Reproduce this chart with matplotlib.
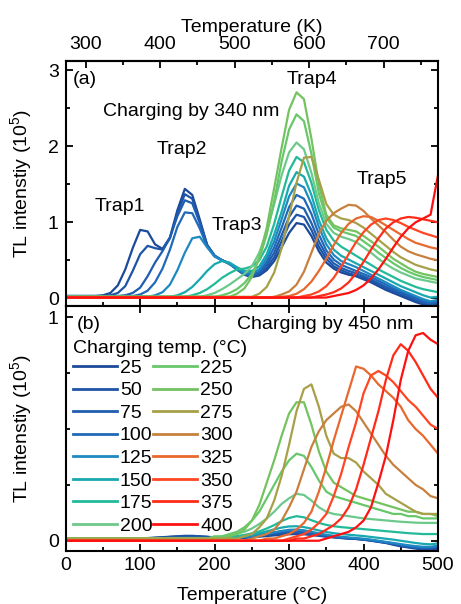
import matplotlib.pyplot as plt
from matplotlib.lines import Line2D
from matplotlib.ticker import MultipleLocator

plt.rcParams["font.family"] = ["Liberation Sans", "DejaVu Sans"]
plt.rcParams["mathtext.default"] = "regular"
plt.rcParams["font.size"] = 14

# heating temperature grid (deg C) shared by every curve
temps = list(range(0, 501, 10))

charge_temps = [25, 50, 75, 100, 125, 150, 175, 200,
                225, 250, 275, 300, 325, 350, 375, 400]
colors = ["#1c4a9a", "#1e54a6", "#1f5daf", "#2068b8", "#1e88c2", "#18a8b0",
          "#22ba98", "#6cc98a", "#66c86a", "#74c260", "#a8a048", "#c8803e",
          "#e8682e", "#ff4522", "#ff2a18", "#ff1010"]

# (a) charging by 340 nm, TL intensity in 1e5 counts
a25 = [0.03, 0.03, 0.03, 0.03, 0.03, 0.04, 0.07, 0.17, 0.38, 0.66,
       0.90, 0.88, 0.71, 0.65, 0.80, 1.16, 1.44, 1.36, 1.04, 0.70,
       0.56, 0.50, 0.46, 0.38, 0.31, 0.28, 0.30, 0.37, 0.49, 0.67,
       0.86, 0.99, 0.97, 0.82, 0.62, 0.47, 0.39, 0.34, 0.31, 0.29,
       0.25, 0.21, 0.16, 0.11, 0.07, 0.03, -0.01, -0.05, -0.08, -0.10,
       -0.07]
a50 = [0.03, 0.03, 0.03, 0.03, 0.03, 0.03, 0.04, 0.07, 0.16, 0.36,
       0.58, 0.69, 0.66, 0.64, 0.79, 1.12, 1.37, 1.31, 1.01, 0.70,
       0.56, 0.50, 0.46, 0.38, 0.31, 0.29, 0.31, 0.40, 0.54, 0.75,
       0.97, 1.10, 1.07, 0.90, 0.68, 0.52, 0.42, 0.37, 0.33, 0.30,
       0.27, 0.23, 0.18, 0.13, 0.09, 0.05, 0.01, -0.03, -0.06, -0.09,
       -0.06]
a75 = [0.03, 0.03, 0.03, 0.03, 0.03, 0.03, 0.03, 0.03, 0.04, 0.07,
       0.14, 0.29, 0.47, 0.62, 0.80, 1.08, 1.29, 1.25, 0.99, 0.70,
       0.56, 0.50, 0.46, 0.38, 0.32, 0.30, 0.33, 0.44, 0.60, 0.83,
       1.07, 1.22, 1.18, 0.99, 0.75, 0.57, 0.46, 0.40, 0.36, 0.33,
       0.29, 0.25, 0.20, 0.15, 0.11, 0.07, 0.03, -0.01, -0.05, -0.08,
       -0.05]
a100 = [0.03, 0.03, 0.03, 0.03, 0.03, 0.03, 0.03, 0.03, 0.03, 0.03,
        0.05, 0.10, 0.21, 0.39, 0.64, 0.94, 1.13, 1.12, 0.92, 0.68,
        0.55, 0.50, 0.45, 0.38, 0.32, 0.31, 0.35, 0.48, 0.67, 0.93,
        1.20, 1.36, 1.31, 1.11, 0.84, 0.63, 0.51, 0.44, 0.40, 0.36,
        0.32, 0.28, 0.23, 0.18, 0.13, 0.09, 0.05, 0.01, -0.03, -0.06,
        -0.03]
a125 = [0.02, 0.02, 0.02, 0.02, 0.02, 0.02, 0.02, 0.02, 0.02, 0.02,
        0.02, 0.02, 0.04, 0.08, 0.18, 0.37, 0.60, 0.79, 0.81, 0.67,
        0.55, 0.50, 0.45, 0.39, 0.33, 0.33, 0.38, 0.53, 0.75, 1.04,
        1.34, 1.51, 1.46, 1.24, 0.94, 0.71, 0.57, 0.49, 0.45, 0.41,
        0.36, 0.31, 0.26, 0.21, 0.16, 0.11, 0.07, 0.03, -0.01, -0.04,
        -0.02]
a150 = [0.02, 0.02, 0.02, 0.02, 0.02, 0.02, 0.02, 0.02, 0.02, 0.02,
        0.02, 0.02, 0.02, 0.02, 0.02, 0.04, 0.08, 0.15, 0.25, 0.36,
        0.45, 0.49, 0.47, 0.41, 0.36, 0.36, 0.42, 0.58, 0.84, 1.14,
        1.48, 1.66, 1.60, 1.36, 1.03, 0.79, 0.64, 0.56, 0.51, 0.46,
        0.41, 0.36, 0.31, 0.26, 0.21, 0.16, 0.12, 0.08, 0.04, 0.01,
        0.02]
a175 = [0.02, 0.02, 0.02, 0.02, 0.02, 0.02, 0.02, 0.02, 0.02, 0.02,
        0.02, 0.02, 0.02, 0.02, 0.02, 0.02, 0.02, 0.04, 0.07, 0.12,
        0.19, 0.27, 0.33, 0.38, 0.39, 0.42, 0.50, 0.68, 0.98, 1.34,
        1.68, 1.86, 1.79, 1.52, 1.16, 0.90, 0.76, 0.68, 0.62, 0.56,
        0.50, 0.44, 0.38, 0.33, 0.28, 0.23, 0.19, 0.15, 0.12, 0.10,
        0.08]
a200 = [0.02, 0.02, 0.02, 0.02, 0.02, 0.02, 0.02, 0.02, 0.02, 0.02,
        0.02, 0.02, 0.02, 0.02, 0.02, 0.02, 0.02, 0.02, 0.02, 0.04,
        0.07, 0.12, 0.18, 0.25, 0.32, 0.42, 0.60, 0.88, 1.24, 1.62,
        1.92, 2.05, 1.96, 1.65, 1.25, 0.98, 0.86, 0.81, 0.78, 0.74,
        0.67, 0.60, 0.52, 0.45, 0.39, 0.34, 0.30, 0.26, 0.24, 0.22,
        0.20]
a225 = [0.02, 0.02, 0.02, 0.02, 0.02, 0.02, 0.02, 0.02, 0.02, 0.02,
        0.02, 0.02, 0.02, 0.02, 0.02, 0.02, 0.02, 0.02, 0.02, 0.02,
        0.02, 0.04, 0.07, 0.12, 0.20, 0.32, 0.52, 0.84, 1.28, 1.80,
        2.22, 2.42, 2.33, 1.90, 1.38, 1.06, 0.93, 0.88, 0.85, 0.82,
        0.75, 0.68, 0.60, 0.53, 0.46, 0.40, 0.35, 0.31, 0.28, 0.26,
        0.24]
a250 = [0.02, 0.02, 0.02, 0.02, 0.02, 0.02, 0.02, 0.02, 0.02, 0.02,
        0.02, 0.02, 0.02, 0.02, 0.02, 0.02, 0.02, 0.02, 0.02, 0.02,
        0.02, 0.02, 0.02, 0.06, 0.13, 0.28, 0.54, 0.93, 1.45, 1.98,
        2.48, 2.71, 2.62, 2.10, 1.50, 1.10, 0.96, 0.92, 0.90, 0.88,
        0.82, 0.75, 0.68, 0.60, 0.52, 0.46, 0.40, 0.35, 0.32, 0.30,
        0.28]
a275 = [0.02, 0.02, 0.02, 0.02, 0.02, 0.02, 0.02, 0.02, 0.02, 0.02,
        0.02, 0.02, 0.02, 0.02, 0.02, 0.02, 0.02, 0.02, 0.02, 0.02,
        0.02, 0.02, 0.02, 0.02, 0.02, 0.02, 0.06, 0.15, 0.34, 0.66,
        1.08, 1.52, 1.85, 1.86, 1.56, 1.24, 1.10, 1.05, 1.03, 0.99,
        0.93, 0.85, 0.77, 0.69, 0.61, 0.54, 0.49, 0.44, 0.41, 0.38,
        0.36]
a300 = [0.01, 0.01, 0.01, 0.01, 0.01, 0.01, 0.01, 0.01, 0.01, 0.01,
        0.01, 0.01, 0.01, 0.01, 0.01, 0.01, 0.01, 0.01, 0.01, 0.01,
        0.01, 0.01, 0.01, 0.01, 0.01, 0.01, 0.01, 0.01, 0.02, 0.05,
        0.09, 0.18, 0.35, 0.60, 0.85, 1.02, 1.12, 1.18, 1.23, 1.22,
        1.15, 1.05, 0.96, 0.87, 0.77, 0.68, 0.62, 0.58, 0.55, 0.52,
        0.50]
a325 = [0.01, 0.01, 0.01, 0.01, 0.01, 0.01, 0.01, 0.01, 0.01, 0.01,
        0.01, 0.01, 0.01, 0.01, 0.01, 0.01, 0.01, 0.01, 0.01, 0.01,
        0.01, 0.01, 0.01, 0.01, 0.01, 0.01, 0.01, 0.01, 0.01, 0.02,
        0.03, 0.06, 0.12, 0.22, 0.36, 0.52, 0.70, 0.86, 0.98, 1.05,
        1.08, 1.07, 1.02, 0.96, 0.90, 0.84, 0.78, 0.73, 0.70, 0.67,
        0.65]
a350 = [0.01, 0.01, 0.01, 0.01, 0.01, 0.01, 0.01, 0.01, 0.01, 0.01,
        0.01, 0.01, 0.01, 0.01, 0.01, 0.01, 0.01, 0.01, 0.01, 0.01,
        0.01, 0.01, 0.01, 0.01, 0.01, 0.01, 0.01, 0.01, 0.01, 0.01,
        0.01, 0.01, 0.03, 0.05, 0.09, 0.16, 0.27, 0.42, 0.58, 0.74,
        0.87, 0.97, 1.03, 1.05, 1.03, 0.99, 0.94, 0.90, 0.86, 0.83,
        0.80]
a375 = [0.01, 0.01, 0.01, 0.01, 0.01, 0.01, 0.01, 0.01, 0.01, 0.01,
        0.01, 0.01, 0.01, 0.01, 0.01, 0.01, 0.01, 0.01, 0.01, 0.01,
        0.01, 0.01, 0.01, 0.01, 0.01, 0.01, 0.01, 0.01, 0.01, 0.01,
        0.01, 0.01, 0.01, 0.01, 0.03, 0.05, 0.08, 0.13, 0.21, 0.33,
        0.48, 0.64, 0.79, 0.92, 1.00, 1.05, 1.07, 1.06, 1.04, 1.02,
        1.00]
a400 = [0.01, 0.01, 0.01, 0.01, 0.01, 0.01, 0.01, 0.01, 0.01, 0.01,
        0.01, 0.01, 0.01, 0.01, 0.01, 0.01, 0.01, 0.01, 0.01, 0.01,
        0.01, 0.01, 0.01, 0.01, 0.01, 0.01, 0.01, 0.01, 0.01, 0.01,
        0.01, 0.01, 0.01, 0.01, 0.01, 0.01, 0.03, 0.05, 0.07, 0.11,
        0.17, 0.26, 0.38, 0.52, 0.67, 0.81, 0.92, 1.00, 1.05, 1.10,
        1.62]

# (b) charging by 450 nm
b25 = [0.01, 0.01, 0.01, 0.01, 0.01, 0.01, 0.01, 0.01, 0.01, 0.01,
       0.01, 0.012, 0.014, 0.016, 0.018, 0.02, 0.022, 0.022, 0.02, 0.018,
       0.015, 0.013, 0.012, 0.012, 0.013, 0.015, 0.018, 0.021, 0.024, 0.027,
       0.029, 0.03, 0.029, 0.026, 0.022, 0.018, 0.015, 0.012, 0.01, 0.008,
       0.005, 0.0, -0.005, -0.01, -0.018, -0.025, -0.03, -0.035, -0.04, -0.04,
       -0.035]
b50 = [0.01, 0.01, 0.01, 0.01, 0.01, 0.01, 0.01, 0.01, 0.01, 0.01,
       0.01, 0.011, 0.013, 0.015, 0.017, 0.019, 0.02, 0.02, 0.019, 0.017,
       0.015, 0.013, 0.012, 0.013, 0.015, 0.018, 0.021, 0.025, 0.029, 0.032,
       0.034, 0.034, 0.032, 0.028, 0.024, 0.02, 0.016, 0.013, 0.01, 0.008,
       0.005, 0.001, -0.004, -0.009, -0.015, -0.022, -0.028, -0.032, -0.036, -0.036,
       -0.03]
b75 = [0.01, 0.01, 0.01, 0.01, 0.01, 0.01, 0.01, 0.01, 0.01, 0.01,
       0.01, 0.01, 0.011, 0.012, 0.014, 0.015, 0.016, 0.016, 0.015, 0.014,
       0.013, 0.013, 0.013, 0.014, 0.017, 0.021, 0.025, 0.029, 0.033, 0.037,
       0.039, 0.039, 0.036, 0.031, 0.026, 0.021, 0.017, 0.014, 0.011, 0.009,
       0.006, 0.002, -0.003, -0.008, -0.013, -0.02, -0.025, -0.03, -0.033, -0.033,
       -0.028]
b100 = [0.01, 0.01, 0.01, 0.01, 0.01, 0.01, 0.01, 0.01, 0.01, 0.01,
        0.01, 0.01, 0.01, 0.01, 0.011, 0.012, 0.012, 0.012, 0.012, 0.012,
        0.012, 0.012, 0.013, 0.015, 0.018, 0.022, 0.027, 0.032, 0.037, 0.041,
        0.044, 0.044, 0.041, 0.035, 0.029, 0.024, 0.019, 0.015, 0.012, 0.01,
        0.007, 0.003, -0.002, -0.007, -0.012, -0.018, -0.023, -0.027, -0.03, -0.03,
        -0.025]
b125 = [0.01, 0.01, 0.01, 0.01, 0.01, 0.01, 0.01, 0.01, 0.01, 0.01,
        0.01, 0.01, 0.01, 0.01, 0.01, 0.01, 0.01, 0.01, 0.01, 0.01,
        0.01, 0.011, 0.012, 0.014, 0.017, 0.021, 0.026, 0.032, 0.038, 0.044,
        0.049, 0.05, 0.047, 0.04, 0.033, 0.027, 0.022, 0.018, 0.015, 0.012,
        0.009, 0.005, 0.0, -0.005, -0.01, -0.015, -0.02, -0.024, -0.027, -0.027,
        -0.022]
b150 = [0.01, 0.01, 0.01, 0.01, 0.01, 0.01, 0.01, 0.01, 0.01, 0.01,
        0.01, 0.01, 0.01, 0.01, 0.01, 0.01, 0.01, 0.01, 0.01, 0.01,
        0.01, 0.012, 0.014, 0.017, 0.021, 0.027, 0.034, 0.042, 0.051, 0.059,
        0.064, 0.065, 0.061, 0.054, 0.046, 0.039, 0.034, 0.03, 0.027, 0.024,
        0.021, 0.017, 0.013, 0.009, 0.005, 0.0, -0.005, -0.01, -0.014, -0.016,
        -0.012]
b175 = [0.01, 0.01, 0.01, 0.01, 0.01, 0.01, 0.01, 0.01, 0.01, 0.01,
        0.01, 0.01, 0.01, 0.01, 0.01, 0.01, 0.01, 0.01, 0.01, 0.01,
        0.012, 0.014, 0.017, 0.021, 0.026, 0.033, 0.042, 0.055, 0.07, 0.088,
        0.102, 0.11, 0.105, 0.092, 0.08, 0.071, 0.065, 0.061, 0.058, 0.055,
        0.052, 0.049, 0.046, 0.043, 0.04, 0.037, 0.034, 0.032, 0.03, 0.03,
        0.03]
b200 = [0.01, 0.01, 0.01, 0.01, 0.01, 0.01, 0.01, 0.01, 0.01, 0.01,
        0.01, 0.01, 0.01, 0.01, 0.01, 0.01, 0.01, 0.01, 0.01, 0.01,
        0.015, 0.018, 0.024, 0.031, 0.04, 0.055, 0.075, 0.10, 0.13, 0.165,
        0.19, 0.21, 0.205, 0.18, 0.15, 0.13, 0.12, 0.115, 0.11, 0.105,
        0.10, 0.097, 0.094, 0.091, 0.088, 0.085, 0.083, 0.081, 0.08, 0.08,
        0.08]
b225 = [0.01, 0.01, 0.01, 0.01, 0.01, 0.01, 0.01, 0.01, 0.01, 0.01,
        0.01, 0.01, 0.01, 0.01, 0.01, 0.01, 0.01, 0.01, 0.01, 0.01,
        0.02, 0.02, 0.03, 0.04, 0.06, 0.09, 0.13, 0.19, 0.25, 0.31,
        0.36, 0.39, 0.38, 0.33, 0.27, 0.22, 0.20, 0.19, 0.18, 0.17,
        0.16, 0.15, 0.14, 0.13, 0.12, 0.12, 0.11, 0.11, 0.10, 0.10,
        0.10]
b250 = [0.01, 0.01, 0.01, 0.01, 0.01, 0.01, 0.01, 0.01, 0.01, 0.01,
        0.01, 0.01, 0.01, 0.01, 0.01, 0.01, 0.01, 0.01, 0.01, 0.01,
        0.01, 0.01, 0.02, 0.03, 0.05, 0.09, 0.16, 0.26, 0.36, 0.47,
        0.57, 0.62, 0.62, 0.52, 0.40, 0.31, 0.26, 0.24, 0.22, 0.20,
        0.19, 0.18, 0.17, 0.16, 0.15, 0.14, 0.13, 0.13, 0.12, 0.12,
        0.11]
b275 = [0.01, 0.01, 0.01, 0.01, 0.01, 0.01, 0.01, 0.01, 0.01, 0.01,
        0.01, 0.01, 0.01, 0.01, 0.01, 0.01, 0.01, 0.01, 0.01, 0.01,
        0.01, 0.01, 0.01, 0.01, 0.02, 0.03, 0.06, 0.10, 0.18, 0.29,
        0.43, 0.58, 0.68, 0.70, 0.60, 0.47, 0.39, 0.37, 0.37, 0.35,
        0.31, 0.28, 0.25, 0.21, 0.19, 0.17, 0.15, 0.13, 0.12, 0.12,
        0.12]
b300 = [0.0, 0.0, 0.0, 0.0, 0.0, 0.0, 0.0, 0.0, 0.0, 0.0,
        0.0, 0.0, 0.0, 0.0, 0.0, 0.0, 0.0, 0.0, 0.0, 0.0,
        0.0, 0.0, 0.0, 0.0, 0.0, 0.01, 0.02, 0.03, 0.05, 0.09,
        0.15, 0.22, 0.32, 0.42, 0.49, 0.54, 0.57, 0.60, 0.61, 0.58,
        0.53, 0.48, 0.43, 0.38, 0.34, 0.31, 0.28, 0.25, 0.23, 0.20,
        0.19]
b325 = [0.0, 0.0, 0.0, 0.0, 0.0, 0.0, 0.0, 0.0, 0.0, 0.0,
        0.0, 0.0, 0.0, 0.0, 0.0, 0.0, 0.0, 0.0, 0.0, 0.0,
        0.0, 0.0, 0.0, 0.0, 0.0, 0.0, 0.0, 0.01, 0.01, 0.02,
        0.03, 0.05, 0.08, 0.13, 0.22, 0.33, 0.45, 0.56, 0.67, 0.78,
        0.77, 0.74, 0.70, 0.67, 0.64, 0.60, 0.54, 0.50, 0.47, 0.43,
        0.39]
b350 = [0.0, 0.0, 0.0, 0.0, 0.0, 0.0, 0.0, 0.0, 0.0, 0.0,
        0.0, 0.0, 0.0, 0.0, 0.0, 0.0, 0.0, 0.0, 0.0, 0.0,
        0.0, 0.0, 0.0, 0.0, 0.0, 0.0, 0.0, 0.0, 0.0, 0.0,
        0.01, 0.02, 0.03, 0.05, 0.08, 0.12, 0.20, 0.30, 0.42, 0.53,
        0.66, 0.74, 0.76, 0.74, 0.71, 0.67, 0.63, 0.60, 0.56, 0.52,
        0.50]
b375 = [0.0, 0.0, 0.0, 0.0, 0.0, 0.0, 0.0, 0.0, 0.0, 0.0,
        0.0, 0.0, 0.0, 0.0, 0.0, 0.0, 0.0, 0.0, 0.0, 0.0,
        0.0, 0.0, 0.0, 0.0, 0.0, 0.0, 0.0, 0.0, 0.0, 0.0,
        0.0, 0.01, 0.01, 0.02, 0.03, 0.05, 0.07, 0.10, 0.15, 0.23,
        0.34, 0.46, 0.58, 0.72, 0.83, 0.88, 0.85, 0.80, 0.74, 0.68,
        0.64]
b400 = [0.0, 0.0, 0.0, 0.0, 0.0, 0.0, 0.0, 0.0, 0.0, 0.0,
        0.0, 0.0, 0.0, 0.0, 0.0, 0.0, 0.0, 0.0, 0.0, 0.0,
        0.0, 0.0, 0.0, 0.0, 0.0, 0.0, 0.0, 0.0, 0.0, 0.0,
        0.0, 0.0, 0.0, 0.0, 0.0, 0.01, 0.02, 0.03, 0.04, 0.06,
        0.09, 0.15, 0.26, 0.38, 0.54, 0.72, 0.85, 0.92, 0.93, 0.90,
        0.88]

curves_a = [a25, a50, a75, a100, a125, a150, a175, a200,
            a225, a250, a275, a300, a325, a350, a375, a400]
curves_b = [b25, b50, b75, b100, b125, b150, b175, b200,
            b225, b250, b275, b300, b325, b350, b375, b400]


def c_to_k(t):
    return t + 273.15


def k_to_c(k):
    return k - 273.15


def style_axes(ax):
    ax.set_xlim(0, 500)
    ax.xaxis.set_major_locator(MultipleLocator(100))
    ax.xaxis.set_minor_locator(MultipleLocator(50))
    ax.tick_params(which="both", direction="in", right=True, width=1.3,
                   labelsize=14)
    ax.tick_params(which="major", length=5)
    ax.tick_params(which="minor", length=3)
    ax.tick_params(axis="y", pad=5)
    for s in ax.spines.values():
        s.set_linewidth(1.5)
    ax.yaxis.set_label_coords(-0.085, 0.5)


fig = plt.figure(figsize=(4.61, 6.04), dpi=100)
ax_a = fig.add_axes([0.1425, 0.4934, 0.8076, 0.4056])
ax_b = fig.add_axes([0.1425, 0.0877, 0.8076, 0.4057])

for ys, c in zip(curves_a, colors):
    ax_a.plot(temps, ys, color=c, lw=1.6)
for ys, c in zip(curves_b, colors):
    ax_b.plot(temps, ys, color=c, lw=1.6)

# panel (a)
style_axes(ax_a)
ax_a.set_ylim(-0.101, 3.122)
ax_a.yaxis.set_major_locator(MultipleLocator(1))
ax_a.yaxis.set_minor_locator(MultipleLocator(0.5))
ax_a.tick_params(axis="x", top=False, labelbottom=False)
ax_a.set_ylabel("TL intenstiy (10$^5$)")

sec = ax_a.secondary_xaxis("top", functions=(c_to_k, k_to_c))
sec.set_xticks([300, 400, 500, 600, 700])
sec.xaxis.set_minor_locator(MultipleLocator(50))
sec.tick_params(which="both", direction="in", width=1.3, labelsize=14, pad=5.5)
sec.tick_params(which="major", length=5)
sec.tick_params(which="minor", length=3)
sec.spines["top"].set_linewidth(1.5)
sec.set_xlabel("Temperature (K)", fontsize=14, labelpad=3.5)

ax_a.text(10, 2.88, "(a)", ha="left", va="center", fontsize=14)
ax_a.text(50, 2.46, "Charging by 340 nm", ha="left", va="center", fontsize=14)
ax_a.text(73, 1.21, "Trap1", ha="center", va="center", fontsize=14)
ax_a.text(156, 1.96, "Trap2", ha="center", va="center", fontsize=14)
ax_a.text(230, 0.96, "Trap3", ha="center", va="center", fontsize=14)
ax_a.text(331, 2.88, "Trap4", ha="center", va="center", fontsize=14)
ax_a.text(425, 1.56, "Trap5", ha="center", va="center", fontsize=14)

# panel (b)
style_axes(ax_b)
ax_b.set_ylim(-0.046, 1.051)
ax_b.yaxis.set_major_locator(MultipleLocator(1))
ax_b.yaxis.set_minor_locator(MultipleLocator(0.25))
ax_b.tick_params(axis="x", top=True, pad=4.5)
ax_b.set_ylabel("TL intenstiy (10$^5$)")
ax_b.set_xlabel("Temperature (°C)", labelpad=9)

ax_b.text(15, 0.97, "(b)", ha="left", va="center", fontsize=14)
ax_b.text(467, 0.97, "Charging by 450 nm", ha="right", va="center", fontsize=14)

ax_b.text(0.0196, 0.825, "Charging temp. (°C)", transform=ax_b.transAxes,
          ha="left", va="center", fontsize=14)
handles = [Line2D([], [], color=c, lw=2.0) for c in colors]
labels = [str(t) for t in charge_temps]
leg = ax_b.legend(handles, labels, ncol=2, loc="upper left",
                  bbox_to_anchor=(0.0196, 0.783), frameon=False,
                  fontsize=14, borderpad=0, borderaxespad=0,
                  handlelength=2.26, handletextpad=0.15,
                  columnspacing=0.05, labelspacing=0.255)

fig.savefig("out.png", dpi=100)
